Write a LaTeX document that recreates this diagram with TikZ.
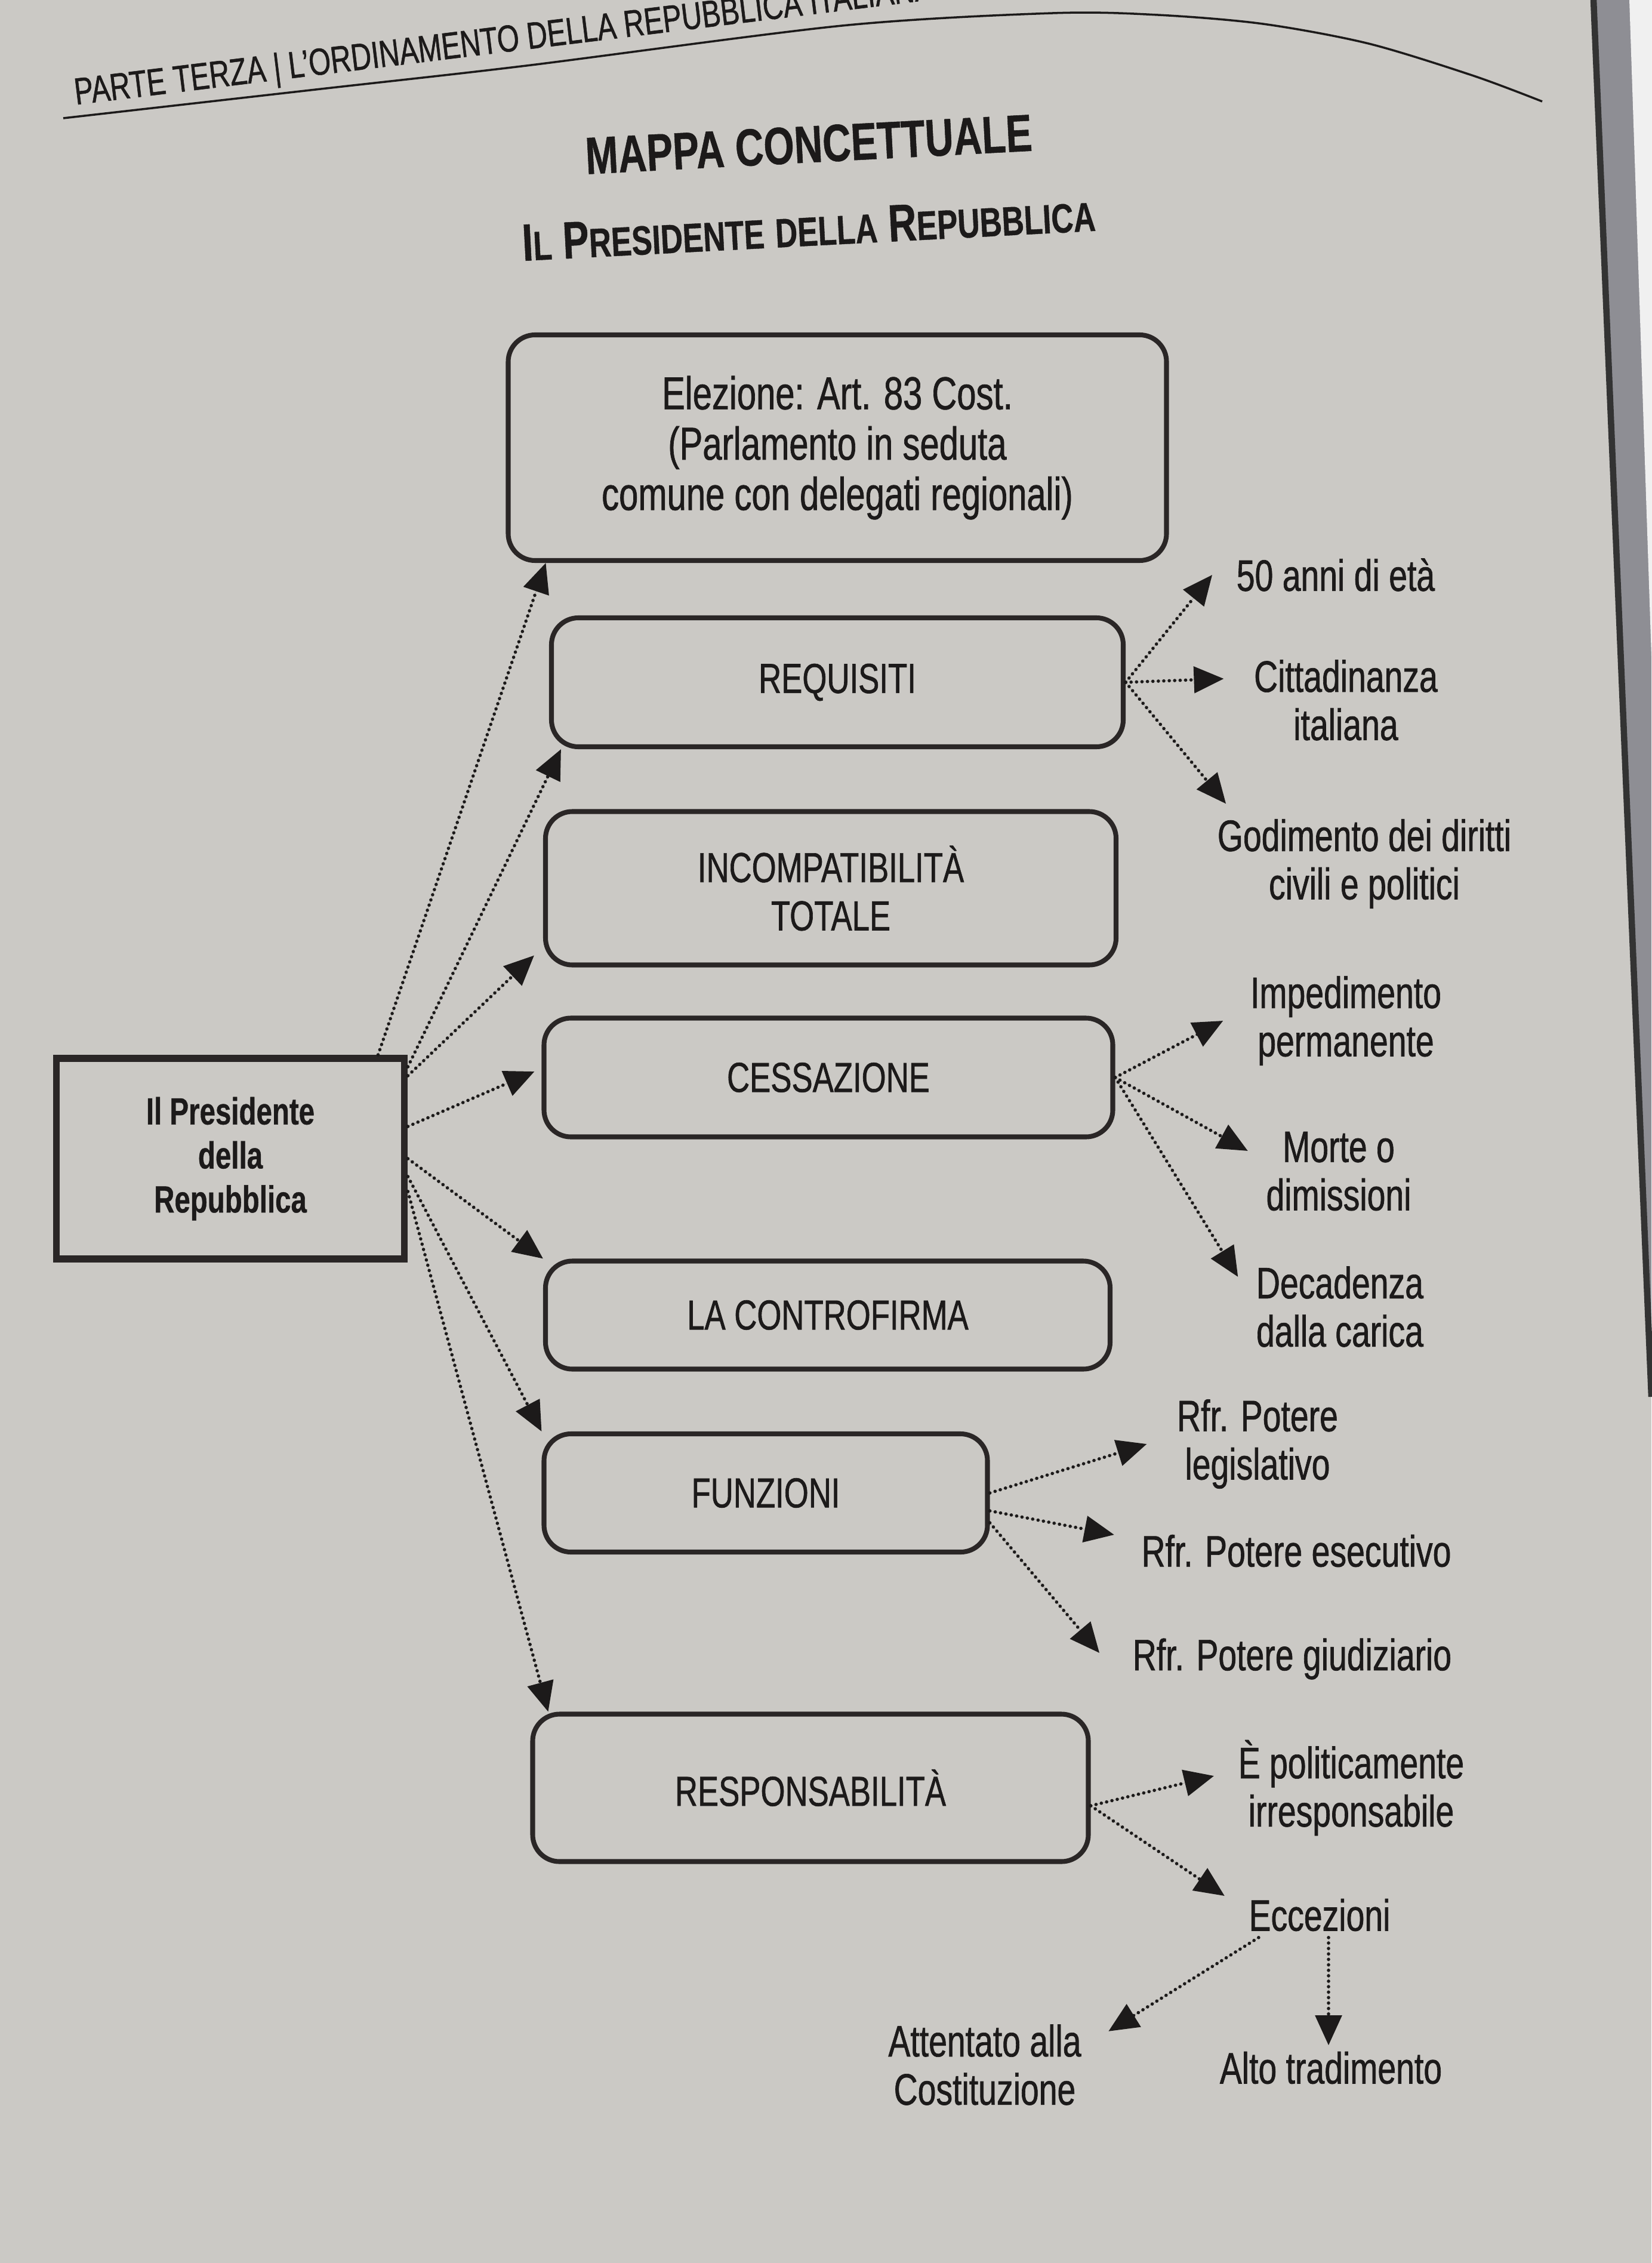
\documentclass[tikz,border=0pt]{standalone}
\usepackage{fontspec}
\setmainfont{Liberation Sans}[FakeStretch=0.75, UprightFeatures={FakeBold=0.9}, BoldFeatures={FakeBold=0.6}]
\usetikzlibrary{arrows.meta,calc}
\definecolor{carta}{HTML}{CBC9C5}
\definecolor{inchiostro}{HTML}{1C1A1A}
\definecolor{bordo}{HTML}{2A2626}
\definecolor{ombra}{HTML}{8E8E94}
\newcommand{\maiusc}[1]{{\fontsize{19.5}{22}\selectfont #1}}

\begin{document}
\begin{tikzpicture}[>={Triangle[length=5mm,width=4.4mm]},
  box/.style={draw=bordo, line width=2.3pt, rounded corners=4.5mm, align=center, text=inchiostro, font=\fontsize{20}{23}\selectfont},
  voce/.style={align=center, text=inchiostro, inner sep=1mm, font=\fontsize{21}{23}\selectfont},
  freccia/.style={->, draw=inchiostro, fill=inchiostro, line width=1.6pt, line cap=round, dash pattern=on 0pt off 2.6pt}]
  \useasboundingbox (0,0) rectangle (27.67,-37.91);
  \fill[carta] (0,0) rectangle (27.67,-37.91);
  \fill[ombra] (26.70,0) -- (27.67,0) -- (27.67,-23.40) -- cycle;
  \fill[white!88!gray] (27.30,0) -- (27.67,0) -- (27.67,-11.0) -- cycle;
  \draw[line width=3pt, black!80] (26.70,0) -- (27.67,-23.40);
  % testata
  \node[rotate=7, anchor=base west, text=inchiostro, font=\fontsize{18}{18}\selectfont] (testata) at (1.15,-1.77) {PARTE TERZA | L'ORDINAMENTO DELLA REPUBBLICA ITALIANA};
  \draw[inchiostro, line width=1pt] plot[smooth] coordinates {(1.06,-1.98) (5.29,-1.50) (8.82,-1.10) (14.11,-0.43) (17.64,-0.22) (19.40,-0.25) (21.16,-0.40) (22.93,-0.73) (24.69,-1.27) (25.84,-1.70)};
  \node[rotate=3, text=inchiostro, font=\bfseries\fontsize{25}{28}\selectfont] (titolo) at (13.55,-2.42) {MAPPA CONCETTUALE};
  \node[rotate=3, text=inchiostro, font=\bfseries\fontsize{25}{28}\selectfont] (sottotitolo) at (13.55,-3.82) {I\maiusc{L} P\maiusc{RESIDENTE} \maiusc{DELLA} R\maiusc{EPUBBLICA}};
  % riquadri
  \node[draw=bordo, line width=3.4pt, minimum width=5.83cm, minimum height=3.36cm, align=center, text=inchiostro, font=\bfseries\fontsize{18}{21}\selectfont] (pres) at (3.86,-19.41) {Il Presidente\\della\\Repubblica};
  \node[box, minimum width=11.03cm, minimum height=3.78cm, font=\fontsize{22}{24}\selectfont] (elez) at (14.03,-7.50) {Elezione: Art. 83 Cost.\\(Parlamento in seduta\\comune con delegati regionali)};
  \node[box, minimum width=9.58cm, minimum height=2.16cm] (req) at (14.03,-11.43) {REQUISITI};
  \node[box, minimum width=9.56cm, minimum height=2.57cm] (inc) at (13.92,-14.88) {INCOMPATIBILITÀ\\TOTALE};
  \node[box, minimum width=9.53cm, minimum height=1.99cm] (ces) at (13.88,-18.05) {CESSAZIONE};
  \node[box, minimum width=9.46cm, minimum height=1.81cm] (con) at (13.87,-22.03) {LA CONTROFIRMA};
  \node[box, minimum width=7.43cm, minimum height=1.98cm] (fun) at (12.83,-25.01) {FUNZIONI};
  \node[box, minimum width=9.31cm, minimum height=2.47cm] (res) at (13.58,-29.95) {RESPONSABILITÀ};
  % voci
  \node[voce] (eta) at (22.38,-9.63) {50 anni di età};
  \node[voce] (cit) at (22.55,-11.73) {Cittadinanza\\italiana};
  \node[voce] (god) at (22.86,-14.47) {Godimento dei diritti\\civili e politici};
  \node[voce] (imp) at (22.55,-17.10) {Impedimento\\permanente};
  \node[voce] (mor) at (22.43,-19.62) {Morte o\\dimissioni};
  \node[voce] (dec) at (22.45,-21.89) {Decadenza\\dalla carica};
  \node[voce] (leg) at (21.07,-24.19) {Rfr. Potere\\legislativo};
  \node[voce] (ese) at (21.72,-25.98) {Rfr. Potere esecutivo};
  \node[voce] (giu) at (21.65,-27.79) {Rfr. Potere giudiziario};
  \node[voce] (irr) at (22.64,-29.95) {È politicamente\\irresponsabile};
  \node[voce] (ecc) at (22.11,-32.08) {Eccezioni};
  \node[voce] (att) at (16.50,-34.59) {Attentato alla\\Costituzione};
  \node[voce] (alt) at (22.30,-34.64) {Alto tradimento};
  % frecce dal presidente
  \draw[freccia] ([xshift=-5mm]pres.north east) -- ([xshift=6.7mm]elez.south west);
  \draw[freccia] ([yshift=-2mm]pres.north east) -- ([xshift=2mm]req.south west);
  \draw[freccia] ([yshift=-3.5mm]pres.north east) -- ([shift={(-1.5mm,2mm)}]inc.south west);
  \draw[freccia] ([yshift=-12mm]pres.north east) -- ([shift={(-1.2mm,1mm)}]ces.west);
  \draw[freccia] (pres.east) -- (con.north west);
  \draw[freccia] ([yshift=-3mm]pres.east) -- (fun.north west);
  \draw[freccia] ([yshift=-5.5mm]pres.east) -- ([xshift=3mm]res.north west);
  % frecce verso le voci
  \draw[freccia] (req.east) -- ([xshift=-3mm]eta.west);
  \draw[freccia] (req.east) -- ([shift={(-4mm,3.6mm)}]cit.west);
  \draw[freccia] (req.east) -- ([shift={(2.5mm,1.5mm)}]god.north west);
  \draw[freccia] (ces.east) -- ([xshift=-3.5mm]imp.west);
  \draw[freccia] (ces.east) -- ([shift={(-2mm,3.4mm)}]mor.west);
  \draw[freccia] (ces.east) -- ([shift={(-2mm,5mm)}]dec.west);
  \draw[freccia] (fun.east) -- ([xshift=-4mm]leg.west);
  \draw[freccia] ([yshift=-3mm]fun.east) -- ([shift={(-3.5mm,2.7mm)}]ese.west);
  \draw[freccia] ([yshift=-5mm]fun.east) -- ([shift={(-4.5mm,1mm)}]giu.west);
  \draw[freccia] ([yshift=-3mm]res.east) -- ([shift={(-3mm,2mm)}]irr.west);
  \draw[freccia] ([yshift=-3mm]res.east) -- ([shift={(-3mm,3.2mm)}]ecc.west);
  \draw[freccia] ([xshift=2.7mm]ecc.south west) -- ([shift={(3.5mm,-2.2mm)}]att.north east);
  \draw[freccia] ([xshift=1.5mm]ecc.south) -- ([xshift=1.5mm]ecc.south |- alt.north);
\end{tikzpicture}
\end{document}
